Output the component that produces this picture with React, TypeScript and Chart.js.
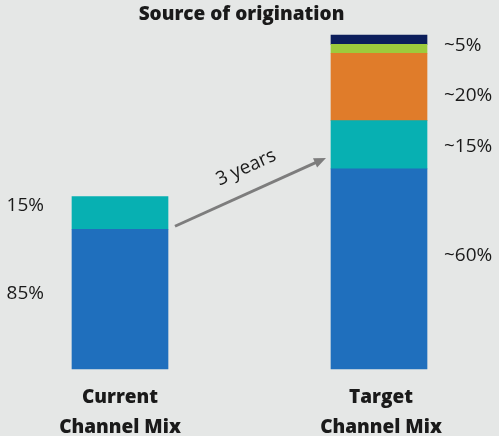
import React, { useEffect, useRef } from "react";
import { Chart, registerables } from "chart.js";

Chart.register(...registerables);

// ---------- data ----------
const categories = [
  ["Current", "Channel Mix"],
  ["Target", "Channel Mix"],
];
const blueValues = [81, 116];
const tealValues = [19, 28];
const orangeValues = [null, 39];
const greenValues = [null, 5.2];
const navyValues = [null, 5.4];
const currentLabels = ["85%", "15%"]; // blue, teal
const targetLabels = ["~60%", "~15%", "~20%", "~5%"]; // blue, teal, orange, green+navy
const chartTitle = "Source of origination";
const arrowLabel = "3 years";

// ---------- style ----------
const COLORS = {
  blue: "#1f6fbd",
  teal: "#07b0b2",
  orange: "#e07c2a",
  green: "#9dcb3c",
  navy: "#0c1e5b",
  bg: "#e5e7e6",
  text: "#1a1a1a",
  arrow: "#7d7d7d",
};
const FONT = '"Open Sans", "Liberation Sans", sans-serif';

const overlayPlugin = {
  id: "overlay",
  beforeDraw(chart: any) {
    const ctx = chart.ctx;
    ctx.save();
    ctx.fillStyle = COLORS.bg;
    ctx.fillRect(0, 0, chart.width, chart.height);
    ctx.restore();
  },
  afterDraw(chart: any) {
    const ctx = chart.ctx;
    const el = (ds: number, i: number) => chart.getDatasetMeta(ds).data[i] as any;
    const mid = (a: number, b: number) => (a + b) / 2;

    ctx.save();
    // title
    ctx.fillStyle = COLORS.text;
    ctx.font = `800 19px ${FONT}`;
    ctx.textAlign = "center";
    ctx.textBaseline = "alphabetic";
    ctx.fillText(chartTitle, chart.width / 2 - 8, 20);

    // category labels (below each bar)
    ctx.font = `800 19px ${FONT}`;
    categories.forEach((lines, i) => {
      const b = el(0, i);
      lines.forEach((t, j) => {
        ctx.fillText(t, b.x + (i === 1 ? 2 : 0), b.base + 34 + j * 30);
      });
    });

    // value labels
    const size = 19;
    ctx.font = `${size}px ${FONT}`;
    const put = (t: string, x: number, yc: number, align: CanvasTextAlign) => {
      ctx.textAlign = align;
      ctx.fillText(t, x, yc + 0.36 * size);
    };
    const cb = el(0, 0);
    const ct = el(1, 0);
    const leftX = cb.x - cb.width / 2 - 28;
    put(currentLabels[0], leftX, mid(cb.y, cb.base) - 7, "right");
    put(currentLabels[1], leftX, mid(ct.y, ct.base) - 9, "right");

    const tb = el(0, 1);
    const tt = el(1, 1);
    const to = el(2, 1);
    const tg = el(3, 1);
    const tn = el(4, 1);
    const rightX = tb.x + tb.width / 2 + 17;
    put(targetLabels[0], rightX, mid(tb.y, tb.base) - 15, "left");
    put(targetLabels[1], rightX, mid(tt.y, tt.base), "left");
    put(targetLabels[2], rightX, mid(to.y, to.base) + 7, "left");
    put(targetLabels[3], rightX, mid(tn.y, tg.base), "left");

    // arrow
    const x1 = cb.x + cb.width / 2 + 7;
    const y1 = ct.base - 3;
    const x2 = tb.x - tb.width / 2 - 5;
    const y2 = tt.base - 11;
    const ang = Math.atan2(y2 - y1, x2 - x1);
    const head = 12;
    ctx.strokeStyle = COLORS.arrow;
    ctx.fillStyle = COLORS.arrow;
    ctx.lineWidth = 3;
    ctx.beginPath();
    ctx.moveTo(x1, y1);
    ctx.lineTo(x2 - head * 0.8 * Math.cos(ang), y2 - head * 0.8 * Math.sin(ang));
    ctx.stroke();
    ctx.beginPath();
    ctx.moveTo(x2, y2);
    ctx.lineTo(
      x2 - head * Math.cos(ang) + 5 * Math.sin(ang),
      y2 - head * Math.sin(ang) - 5 * Math.cos(ang)
    );
    ctx.lineTo(
      x2 - head * Math.cos(ang) - 5 * Math.sin(ang),
      y2 - head * Math.sin(ang) + 5 * Math.cos(ang)
    );
    ctx.closePath();
    ctx.fill();

    // arrow label
    const mx = (x1 + x2) / 2;
    const my = (y1 + y2) / 2;
    const dx = Math.cos(ang);
    const dy = Math.sin(ang);
    const nx = dy; // normal pointing up-left
    const ny = -dx;
    const tx = mx + 6 * dx + 24 * nx;
    const ty = my + 6 * dy + 24 * ny;
    ctx.translate(tx, ty);
    ctx.rotate(ang);
    ctx.fillStyle = COLORS.text;
    ctx.font = `${size}px ${FONT}`;
    ctx.textAlign = "center";
    ctx.textBaseline = "middle";
    ctx.fillText(arrowLabel, 0, 0);
    ctx.restore();
  },
};

export default function App() {
  const ref = useRef<HTMLCanvasElement | null>(null);

  useEffect(() => {
    document.body.style.margin = "0";
    let chart: Chart | null = null;
    let cancelled = false;
    const make = () => {
      if (cancelled || !ref.current) return;
      const total =
        (blueValues[1] || 0) +
        (tealValues[1] || 0) +
        (orangeValues[1] || 0) +
        (greenValues[1] || 0) +
        (navyValues[1] || 0);
      chart = new Chart(ref.current, {
        type: "bar",
        data: {
          labels: categories as any,
          datasets: [
            { label: "Blue", data: blueValues, backgroundColor: COLORS.blue },
            { label: "Teal", data: tealValues, backgroundColor: COLORS.teal },
            { label: "Orange", data: orangeValues as any, backgroundColor: COLORS.orange },
            { label: "Green", data: greenValues as any, backgroundColor: COLORS.green },
            { label: "Navy", data: navyValues as any, backgroundColor: COLORS.navy },
          ].map((d) => ({ ...d, barThickness: 96, borderWidth: 0, clip: false as any })),
        },
        options: {
          animation: false,
          responsive: false,
          layout: { padding: { left: 120, right: 120, top: 35, bottom: 67 } },
          plugins: {
            legend: { display: false },
            title: { display: false },
            tooltip: { enabled: false },
          },
          scales: {
            x: {
              stacked: true,
              offset: false,
              display: false,
            },
            y: {
              stacked: true,
              display: false,
              min: 0,
              max: total,
            },
          },
        },
        plugins: [overlayPlugin],
      });
    };
    const fonts: any = (document as any).fonts;
    if (fonts && fonts.load) {
      Promise.all([
        fonts.load(`800 19px "Open Sans"`),
        fonts.load(`bold 19px "Open Sans"`),
        fonts.load(`19px "Open Sans"`),
      ])
        .catch(() => null)
        .then(make);
    } else {
      make();
    }
    return () => {
      cancelled = true;
      if (chart) chart.destroy();
    };
  }, []);

  return (
    <div style={{ width: 499, height: 436 }}>
      <canvas ref={ref} width={499} height={436} style={{ display: "block" }} />
    </div>
  );
}
